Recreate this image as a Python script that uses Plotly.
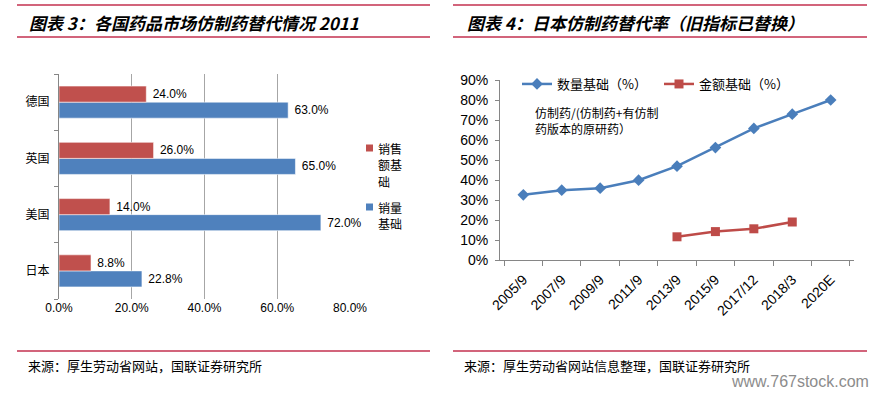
import plotly.graph_objects as go

W, H = 880, 394

# ---------------- data ----------------
countries = ["德国", "英国", "美国", "日本"]
sales_basis = [24.0, 26.0, 14.0, 8.8]      # 销售额基础
volume_basis = [63.0, 65.0, 72.0, 22.8]    # 销量基础

periods = ["2005/9", "2007/9", "2009/9", "2011/9", "2013/9",
           "2015/9", "2017/12", "2018/3", "2020E"]
quantity_rate = [32.6, 34.9, 35.9, 39.9, 46.9, 56.2, 65.8, 72.9, 80.0]   # 数量基础（%）
amount_rate = [None, None, None, None, 11.6, 14.2, 15.6, 19.0, None]    # 金额基础（%）

title_left = "图表 3：各国药品市场仿制药替代情况 2011"
title_right = "图表 4：日本仿制药替代率（旧指标已替换）"
source_left = "来源：厚生劳动省网站，国联证券研究所"
source_right = "来源：厚生劳动省网站信息整理，国联证券研究所"
note_right = "仿制药/(仿制药+有仿制<br>药版本的原研药）"

BLUE = "#4F81BD"
RED = "#C0504D"
LINE_BLUE = "#4A7EBB"
LINE_RED = "#BE4B48"
RULE = "#C3314F"
AXIS = "#868686"
CJK = "Noto Sans CJK SC"
LAT = "Liberation Sans, Arial"


def px(x):
    return x / W


def py(y):
    return 1 - y / H


fig = go.Figure()

# ---------------- left: horizontal bars ----------------
fig.add_trace(go.Bar(
    name="销量基础", orientation="h", x=volume_basis, y=countries,
    marker=dict(color=BLUE, line=dict(color="rgba(255,255,255,0.55)", width=1)),
    texttemplate="\u00a0%{x:.1f}%", textposition="outside", cliponaxis=False,
    constraintext="none",
    textfont=dict(family=LAT, size=12, color="#000000"),
    xaxis="x", yaxis="y", showlegend=False, hoverinfo="x+y",
))
fig.add_trace(go.Bar(
    name="销售额基础", orientation="h", x=sales_basis, y=countries,
    marker=dict(color=RED, line=dict(color="rgba(255,255,255,0.55)", width=1)),
    texttemplate="\u00a0%{x:.1f}%", textposition="outside", cliponaxis=False,
    constraintext="none",
    textfont=dict(family=LAT, size=12, color="#000000"),
    xaxis="x", yaxis="y", showlegend=False, hoverinfo="x+y",
))

# ---------------- right: lines ----------------
fig.add_trace(go.Scatter(
    name="数量基础（%）", x=periods, y=quantity_rate, mode="lines+markers",
    line=dict(color=LINE_BLUE, width=2.5),
    marker=dict(symbol="diamond", size=9, color=LINE_BLUE),
    xaxis="x2", yaxis="y2", legendrank=1,
))
fig.add_trace(go.Scatter(
    name="金额基础（%）", x=periods, y=amount_rate, mode="lines+markers",
    line=dict(color=LINE_RED, width=2.5),
    marker=dict(symbol="square", size=9, color=LINE_RED),
    xaxis="x2", yaxis="y2", legendrank=2, connectgaps=False,
))

fig.update_layout(
    width=W, height=H,
    margin=dict(l=0, r=0, t=0, b=0, pad=0, autoexpand=False),
    paper_bgcolor="white", plot_bgcolor="white",
    barmode="group", bargap=0.43, bargroupgap=0,
    font=dict(family=CJK, size=12, color="#000000"),
    xaxis=dict(
        domain=[px(59), px(350)], anchor="y", range=[0, 80], dtick=20,
        tickformat=".1f", ticksuffix="%", showgrid=True, gridcolor="#A6A6A6",
        gridwidth=1, zeroline=False, showline=False, ticks="",
        tickfont=dict(family=LAT, size=12, color="#000000"),
        fixedrange=True, automargin=False,
    ),
    yaxis=dict(
        domain=[py(299), py(74)], anchor="x", type="category",
        categoryorder="array", categoryarray=countries[::-1],
        showline=True, linecolor=AXIS, linewidth=1, ticks="outside",
        tickson="boundaries", ticklen=4, tickcolor=AXIS, showgrid=False,
        tickfont=dict(family=CJK, size=12, color="#000000"),
        ticklabelstandoff=6, fixedrange=True, automargin=False,
    ),
    xaxis2=dict(
        domain=[px(500), px(854)], anchor="y2", type="category",
        categoryorder="array", categoryarray=periods,
        showline=True, linecolor=AXIS, linewidth=1, ticks="outside",
        tickson="boundaries", ticklen=5, tickcolor=AXIS, showgrid=False,
        tickangle=-45, tickfont=dict(family=LAT, size=14, color="#000000"),
        ticklabelstandoff=5, fixedrange=True, automargin=False,
    ),
    yaxis2=dict(
        domain=[py(260), py(80)], anchor="x2", range=[0, 90], dtick=10,
        ticksuffix="%", showline=True, linecolor=AXIS, linewidth=1,
        ticks="outside", ticklen=4, tickcolor=AXIS, showgrid=False,
        zeroline=False, tickfont=dict(family=LAT, size=14, color="#000000"),
        ticklabelstandoff=4, fixedrange=True, automargin=False,
    ),
    legend=dict(
        orientation="h", x=px(517), y=py(84), xanchor="left", yanchor="middle",
        font=dict(family=CJK, size=13, color="#000000"),
        bgcolor="rgba(0,0,0,0)", itemwidth=30,
        entrywidth=97, entrywidthmode="pixels",
    ),
    showlegend=True,
)

# ---------------- left legend (manual swatches) ----------------
shapes = []
annotations = []
leg_items = [(RED, ["销售", "额基", "础"], 148), (BLUE, ["销量", "基础"], 207)]
for color, lines, y0 in leg_items:
    shapes.append(dict(type="rect", xref="paper", yref="paper",
                       x0=px(366), x1=px(373), y0=py(y0 - 3.5), y1=py(y0 + 3.5),
                       fillcolor=color, line=dict(width=0)))
    for i, t in enumerate(lines):
        annotations.append(dict(text=t, xref="paper", yref="paper",
                                x=px(376), y=py(y0 + i * 16.5), xanchor="left",
                                yanchor="middle", showarrow=False,
                                font=dict(family=CJK, size=12, color="#000000")))

# ---------------- rules ----------------
for x0, x1 in [(17, 430), (453, 867)]:
    for y in (5, 37):
        shapes.append(dict(type="line", xref="paper", yref="paper",
                           x0=px(x0), x1=px(x1), y0=py(y), y1=py(y),
                           line=dict(color=RULE, width=1.3)))
for x0, x1 in [(17, 430), (453, 867)]:
    shapes.append(dict(type="line", xref="paper", yref="paper",
                       x0=px(x0), x1=px(x1), y0=py(351), y1=py(351),
                       line=dict(color=RULE, width=1.3)))

# ---------------- titles / sources / notes ----------------
for text, x in [(title_left, 27), (title_right, 465)]:
    annotations.append(dict(text="<b>" + text + "</b>", xref="paper", yref="paper",
                            x=px(x), y=py(22), xanchor="left", yanchor="middle",
                            showarrow=False,
                            font=dict(family=CJK, size=17, color="#000000",
                                      style="italic")))
for text, x in [(source_left, 26), (source_right, 462)]:
    annotations.append(dict(text=text, xref="paper", yref="paper",
                            x=px(x), y=py(365), xanchor="left", yanchor="middle",
                            showarrow=False,
                            font=dict(family=CJK, size=13, color="#000000")))
annotations.append(dict(text=note_right, xref="paper", yref="paper",
                        x=px(533), y=py(121), xanchor="left", yanchor="middle",
                        align="left", showarrow=False,
                        font=dict(family=CJK, size=12, color="#000000")))
annotations.append(dict(text="www.767stock.com", xref="paper", yref="paper",
                        x=px(871), y=py(381), xanchor="right", yanchor="middle",
                        showarrow=False,
                        font=dict(family=LAT, size=16, color="#8C8C8C")))

fig.update_layout(shapes=shapes, annotations=annotations)

# remove the browser's default 8px page margin so the figure fills the window
fig.write_html(
    "out.html",
    config={"displayModeBar": False},
    post_script="document.body.style.margin='0px';document.body.style.overflow='hidden';",
)
